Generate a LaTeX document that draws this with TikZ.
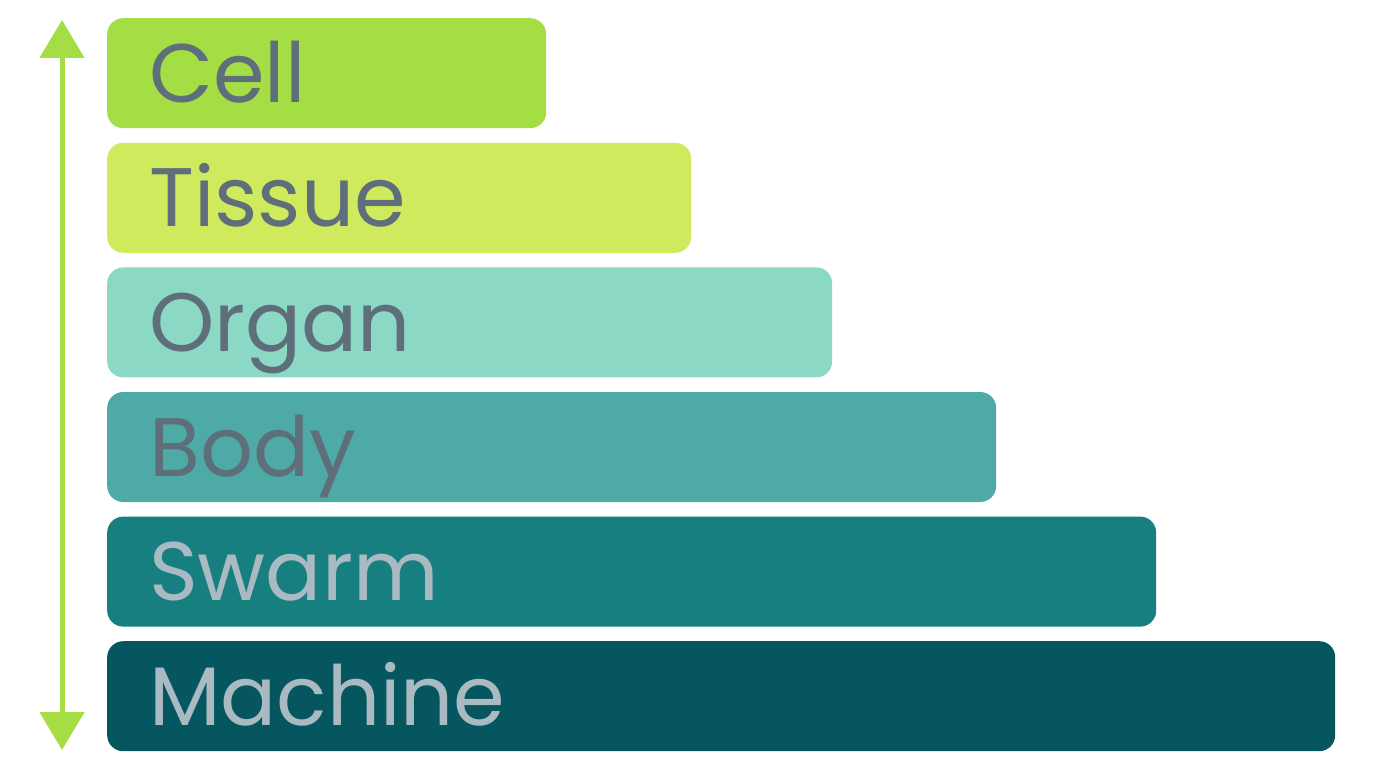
\documentclass[tikz,border=0pt]{standalone}
\usepackage{fontspec}
\setmainfont{Poppins}
\usetikzlibrary{positioning, arrows.meta}
\definecolor{cellgreen}{HTML}{A4DE44}
\definecolor{tissuegreen}{HTML}{D0EA5E}
\definecolor{organteal}{HTML}{8BD8C4}
\definecolor{bodyteal}{HTML}{4DAAA6}
\definecolor{swarmteal}{HTML}{187F81}
\definecolor{machineteal}{HTML}{05565E}
\definecolor{darklabel}{HTML}{5E6E7A}
\definecolor{lightlabel}{HTML}{A9BAC2}

\tikzset{
  bar/.style={rounded corners=16pt, minimum height=110pt, inner ysep=0pt,
              inner xsep=42pt, align=left, text height=58pt, text depth=0pt,
              font=\fontsize{83}{85}\selectfont, text=darklabel},
  scalearrow/.style={line width=5pt, draw=cellgreen,
              {Triangle[width=44pt,length=38pt]}-{Triangle[width=44pt,length=38pt]}},
}

\begin{document}
\begin{tikzpicture}[x=1pt, y=-1pt]
\useasboundingbox (0,0) rectangle (1376,768);
%
\node[bar, fill=cellgreen, text width=355pt, anchor=north west] (cell) at (107,18) {Cell};
\node[bar, fill=tissuegreen, text width=500pt, below=14.2pt of cell.south west, anchor=north west] (tissue) {Tissue};
\node[bar, fill=organteal, text width=641pt, below=14.2pt of tissue.south west, anchor=north west] (organ) {Organ};
\node[bar, fill=bodyteal, text width=805pt, below=14.2pt of organ.south west, anchor=north west] (body) {Body};
\node[bar, fill=swarmteal, text=lightlabel, text width=965pt, below=14.2pt of body.south west, anchor=north west] (swarm) {Swarm};
\node[bar, fill=machineteal, text=lightlabel, text width=1144pt, below=14.2pt of swarm.south west, anchor=north west] (machine) {Machine};
%
\coordinate (top) at (62,20);
\coordinate (bottom) at (62,750);
\draw[scalearrow] (bottom) -- (top);
%
\end{tikzpicture}
\end{document}
